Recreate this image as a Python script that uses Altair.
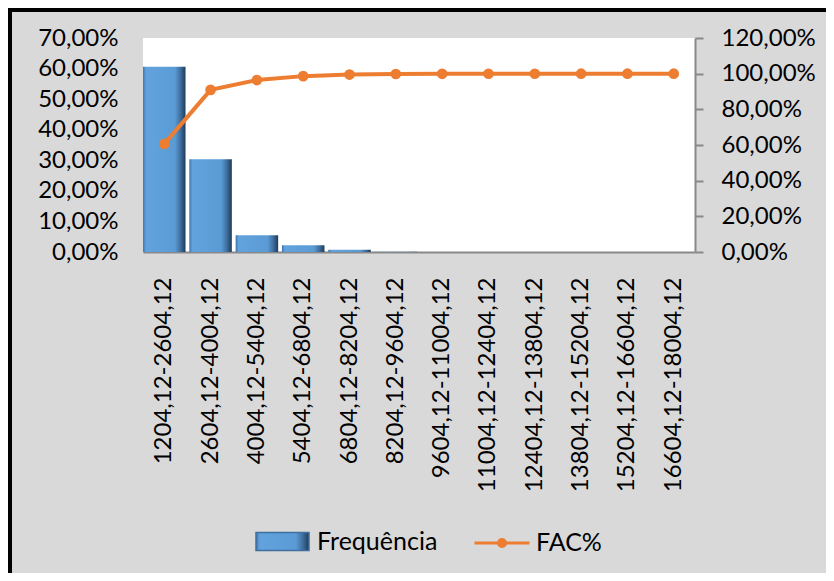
import altair as alt
import pandas as pd

# ---- data ----
categorias = [
    "1204,12-2604,12", "2604,12-4004,12", "4004,12-5404,12", "5404,12-6804,12",
    "6804,12-8204,12", "8204,12-9604,12", "9604,12-11004,12", "11004,12-12404,12",
    "12404,12-13804,12", "13804,12-15204,12", "15204,12-16604,12", "16604,12-18004,12",
]
frequencia = [60.61, 30.30, 5.51, 2.20, 0.70, 0.10, 0.04, 0.02, 0.01, 0.01, 0.01, 0.01]
fac = [60.61, 90.91, 96.42, 98.62, 99.50, 99.80, 99.90, 99.95, 99.97, 99.98, 99.99, 100.0]
ticks_esq = [0, 10, 20, 30, 40, 50, 60, 70]
ticks_dir = [0, 20, 40, 60, 80, 100, 120]
serie_barra = "Frequência"
serie_linha = "FAC%"

df = pd.DataFrame({
    "classe": categorias,
    "freq": frequencia,
    "fac": fac,
    "s_bar": serie_barra,
    "s_line": serie_linha,
})

FONT = "Lato"
FS = 24
ORANGE = "#ed7d31"
AXIS_GRAY = "#898989"
LABEL_EXPR = "replace(format(datum.value, '.2f'), '.', ',') + '%'"

grad_bar = {
    "gradient": "linear", "x1": 0, "x2": 1, "y1": 0, "y2": 0,
    "stops": [
        {"offset": 0.0, "color": "#3f75ab"},
        {"offset": 0.07, "color": "#62a2de"},
        {"offset": 0.75, "color": "#5b9bd5"},
        {"offset": 0.88, "color": "#3f6f9f"},
        {"offset": 1.0, "color": "#1f3b58"},
    ],
}

x_enc = alt.X(
    "classe:N", sort=categorias,
    scale=alt.Scale(paddingInner=0.082, paddingOuter=0),
    axis=alt.Axis(
        title=None, labelAngle=-90, labelFont=FONT, labelFontSize=FS,
        labelColor="black", labelPadding=25, ticks=False, tickSize=0,
        domainColor=AXIS_GRAY, domainWidth=2, labelLimit=400,
    ),
)

bars = alt.Chart(df).mark_bar(fill=grad_bar, strokeWidth=0).encode(
    x=x_enc,
    y=alt.Y(
        "freq:Q", scale=alt.Scale(domain=[0, 70]),
        axis=alt.Axis(
            values=ticks_esq, title=None, labelExpr=LABEL_EXPR, grid=False,
            domain=False, ticks=False, tickSize=0, labelPadding=25,
            labelFont=FONT, labelFontSize=FS, labelColor="black",
        ),
    ),
    stroke=alt.Stroke(
        "s_bar:N",
        scale=alt.Scale(domain=[serie_barra], range=["#3f6f9f"]),
        legend=alt.Legend(
            title=None, orient="none", legendX=112, legendY=476, padding=0,
            symbolType="M-1,-0.34L1,-0.34L1,0.34L-1,0.34Z", symbolSize=2809,
            symbolStrokeWidth=1.5, symbolFillColor="#5b9bd5", symbolOpacity=1,
            labelFont=FONT, labelFontSize=25, labelColor="black", labelOffset=7,
        ),
    ),
)

line = alt.Chart(df).mark_line(
    color=ORANGE, strokeWidth=4,
    point=alt.OverlayMarkDef(filled=True, size=75, color=ORANGE),
).encode(
    x=x_enc,
    y=alt.Y(
        "fac:Q", scale=alt.Scale(domain=[0, 120]),
        axis=alt.Axis(
            orient="right", values=ticks_dir, title=None, labelExpr=LABEL_EXPR,
            grid=False, domainColor=AXIS_GRAY, domainWidth=2, tickColor=AXIS_GRAY,
            tickWidth=2, tickSize=8, labelPadding=18, labelFont=FONT,
            labelFontSize=FS, labelColor="black",
        ),
    ),
    stroke=alt.Stroke(
        "s_line:N",
        scale=alt.Scale(domain=[serie_linha], range=[ORANGE]),
        legend=alt.Legend(
            title=None, orient="none", legendX=330, legendY=476, padding=0,
            symbolType="M-1,0L1,0M0.13,0A0.13,0.13,0,1,1,-0.13,0A0.13,0.13,0,1,1,0.13,0Z",
            symbolSize=3025, symbolStrokeWidth=3, symbolFillColor=ORANGE,
            symbolOpacity=1, labelFont=FONT, labelFontSize=25,
            labelColor="black", labelOffset=5,
        ),
    ),
)

one = pd.DataFrame({"k": [0]})
border_top = alt.Chart(one).mark_rule(color="black", strokeWidth=4).encode(
    x=alt.value(-135), x2=alt.value(700), y=alt.value(-28)
)
border_left = alt.Chart(one).mark_rule(color="black", strokeWidth=4).encode(
    x=alt.value(-133), y=alt.value(-30), y2=alt.value(560)
)

chart = (
    alt.layer(bars, line, border_top, border_left)
    .resolve_scale(y="independent", stroke="independent")
    .properties(
        width=552, height=214,
        padding={"left": 135, "top": 30, "right": 131, "bottom": 321},
        autosize=alt.AutoSizeParams(type="none"),
        background="#d9d9d9",
    )
    .configure_view(fill="white", stroke=None)
)

chart.save("out.html", embed_options={"renderer": "svg", "actions": False})
